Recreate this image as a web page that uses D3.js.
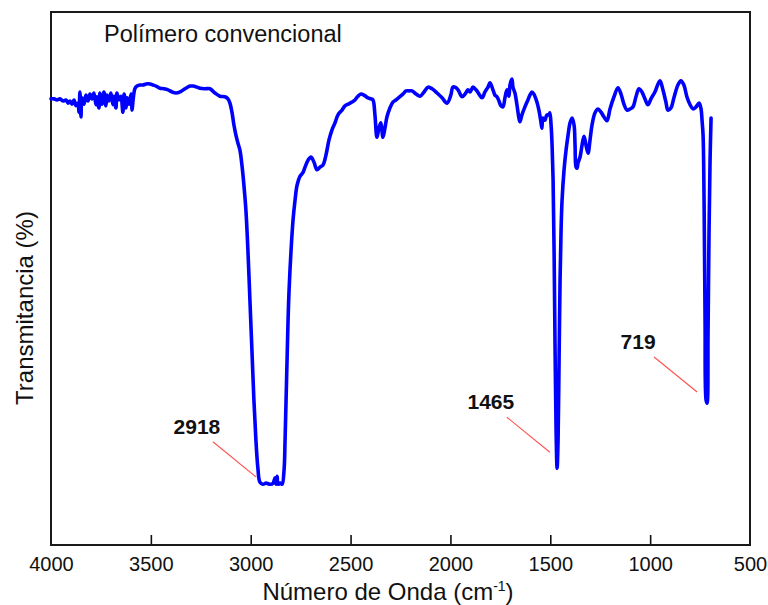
<!DOCTYPE html>
<html><head><meta charset="utf-8">
<script src="https://cdn.jsdelivr.net/npm/d3@7"></script>
<style>body{margin:0;background:#fff;} svg{display:block;} text{font-family:Arial,"Liberation Sans",sans-serif;}</style>
</head><body>
<svg id="c" width="768" height="605"></svg>
<script>
// Wavenumber (cm-1) and transmittance (%)
const wavenumber = [4000,3985,3970,3955,3940,3925,3915,3905,3895,3885,3875,3865,3860,3855,3850,3845,3835,3825,3815,3805,3795,3785,3775,3770,3760,3755,3745,3735,3725,3720,3710,3700,3690,3685,3675,3670,3660,3650,3640,3634,3624,3619,3609,3599,3594,3589,3579,3569,3554,3539,3524,3504,3489,3474,3454,3434,3414,3394,3374,3354,3329,3304,3289,3269,3254,3229,3204,3179,3154,3129,3114,3104,3094,3084,3074,3064,3054,3044,3034,3024,3014,3004,2994,2984,2974,2964,2954,2939,2923,2903,2888,2878,2873,2868,2863,2853,2843,2833,2828,2823,2818,2813,2808,2798,2788,2778,2768,2753,2738,2728,2713,2698,2683,2668,2653,2638,2623,2608,2593,2578,2563,2543,2528,2513,2493,2478,2463,2448,2433,2413,2398,2388,2378,2368,2358,2348,2338,2328,2318,2303,2288,2273,2253,2238,2222,2207,2192,2172,2152,2132,2112,2092,2067,2042,2017,1998,1988,1977,1962,1942,1927,1912,1902,1887,1872,1857,1842,1827,1812,1802,1787,1777,1767,1757,1747,1737,1727,1717,1707,1702,1692,1687,1677,1667,1657,1652,1642,1627,1612,1602,1592,1582,1567,1557,1547,1542,1537,1527,1517,1507,1502,1496,1491,1486,1481,1476,1471,1466,1461,1456,1451,1446,1441,1431,1421,1411,1401,1391,1381,1376,1371,1366,1361,1351,1341,1331,1321,1311,1301,1291,1276,1261,1246,1231,1216,1201,1181,1161,1146,1131,1116,1101,1086,1071,1056,1041,1026,1011,996,976,951,936,921,911,896,881,861,846,831,816,800,785,770,755,745,740,735,730,725,720,715,710,705,700,695];
const transmittance = [83.7,83.7,83.5,83.7,83.3,83.5,82.9,83.3,82.7,83.5,82.4,82.9,81.2,85.0,80.3,83.9,82.7,84.4,83.3,84.6,83.7,84.8,82.6,84.1,82.0,84.8,82.7,85.0,82.4,84.4,83.3,84.8,82.6,84.2,82.0,84.8,83.5,84.2,81.2,84.6,82.0,83.9,82.7,84.6,81.6,83.5,85.7,86.1,86.3,86.3,86.5,86.5,86.3,86.1,85.7,85.6,85.4,85.0,84.8,85.0,85.6,86.1,86.1,85.9,85.7,85.6,85.6,84.8,84.2,84.1,83.7,82.9,81.2,78.8,76.9,75.4,74.1,71.3,67.5,62.8,55.3,46.0,36.6,27.2,19.7,14.4,11.8,11.4,11.6,11.4,11.6,12.6,11.4,12.9,11.4,11.6,11.4,14.1,19.7,27.2,34.7,42.2,47.8,55.3,61.0,64.7,67.5,69.2,69.9,70.9,72.2,72.8,71.8,70.4,70.9,71.3,73.2,76.0,77.9,79.2,80.7,81.6,82.4,82.7,83.1,83.5,84.2,84.6,84.4,83.9,83.7,83.5,80.7,76.5,78.2,79.2,76.5,78.2,80.3,82.0,83.1,83.5,84.1,84.6,85.2,85.2,85.2,84.6,84.2,85.0,85.9,85.6,84.8,83.9,82.9,84.4,85.9,85.9,85.4,84.1,84.6,85.4,85.0,85.9,85.4,84.6,83.9,85.0,85.9,86.7,85.4,84.4,84.1,83.3,82.4,82.2,83.9,85.4,84.2,86.3,87.4,85.9,84.8,82.6,80.1,79.4,80.7,82.2,83.5,84.4,85.0,84.6,83.1,81.6,79.4,78.2,80.1,79.7,80.7,80.7,81.1,78.8,75.0,68.5,55.3,36.6,21.6,14.4,19.7,34.7,49.7,59.1,64.7,70.4,74.1,76.9,79.2,80.1,78.8,75.0,70.9,70.7,71.7,72.8,75.0,76.7,75.0,73.5,76.0,78.8,81.1,81.8,81.2,80.3,79.6,81.8,84.1,85.8,84.6,82.7,81.6,81.8,82.2,84.1,85.6,85.0,83.7,82.6,83.7,85.0,87.1,85.4,83.1,81.6,82.0,83.9,86.3,87.1,86.3,84.1,82.6,81.8,82.2,82.9,81.8,79.6,76.9,64.7,42.2,27.2,26.6,40.3,59.1,72.2,80.1];

const xTicks = [4000,3500,3000,2500,2000,1500,1000,500];

const peakLabels = ["2918","1465","719"];
const peakWn = [2974,1502,765];
const peakT = [12.8,17.4,28.7];

const chartTitle = "Polímero convencional";
const xTitle = "Número de Onda (cm";
const yTitle = "Transmitancia (%)";

const W = 768, H = 605;
const m = {left:51, right:18, top:12, bottom:60};
const svg = d3.select("#c");

const x = d3.scaleLinear().domain([4000,500]).range([m.left, W - m.right]);
const y = d3.scaleLinear().domain([0,100]).range([H - m.bottom, m.top]);

// bottom axis with inner ticks
const xAxis = d3.axisBottom(x).tickValues(xTicks).tickSize(-10).tickPadding(12).tickFormat(d3.format("d"));
const gx = svg.append("g").attr("transform", `translate(0,${H - m.bottom})`).call(xAxis);
gx.select(".domain").remove();
gx.selectAll(".tick line").attr("stroke","#111").attr("stroke-width",1.6)
  .filter(d => d === 4000 || d === 500).remove();
gx.selectAll(".tick text").attr("font-size",20).attr("fill","#111")
  .attr("font-family","Arial, 'Liberation Sans', sans-serif");

// frame
svg.append("rect").attr("x", m.left).attr("y", m.top)
  .attr("width", W - m.left - m.right).attr("height", H - m.top - m.bottom)
  .attr("fill","none").attr("stroke","#1a1a1a").attr("stroke-width",2);

// spectrum
const data = wavenumber.map((w,i) => [w, transmittance[i]]);
const line = d3.line().x(d => x(d[0])).y(d => y(d[1])).curve(d3.curveCatmullRom.alpha(0.5));
svg.append("path").datum(data).attr("d", line)
  .attr("fill","none").attr("stroke","#0000ff").attr("stroke-width",3.6)
  .attr("stroke-linejoin","round").attr("stroke-linecap","round");

// peak annotations
peakLabels.forEach((lab,i) => {
  const ex = x(peakWn[i]), ey = y(peakT[i]);
  const sx = ex - 43, sy = ey - 35;
  svg.append("line").attr("x1",sx).attr("y1",sy).attr("x2",ex).attr("y2",ey)
    .attr("stroke","#ff5050").attr("stroke-width",1.1);
  svg.append("text").attr("x", sx - 16).attr("y", sy - 8)
    .attr("text-anchor","middle").attr("font-weight","bold").attr("font-size",21)
    .attr("fill","#111").text(lab);
});

// titles
svg.append("text").attr("x",104).attr("y",42).attr("font-size",23.5).attr("fill","#111").text(chartTitle);

const xt = svg.append("text").attr("x", 388).attr("y", 600).attr("text-anchor","middle")
  .attr("font-size",24).attr("fill","#111");
xt.append("tspan").text(xTitle);
xt.append("tspan").attr("font-size",14).attr("dy",-9).text("-1");
xt.append("tspan").attr("dy",9).text(")");

svg.append("text").attr("transform","translate(33,308) rotate(-90)").attr("text-anchor","middle")
  .attr("font-size",24).attr("fill","#111").text(yTitle);
</script>
</body></html>
